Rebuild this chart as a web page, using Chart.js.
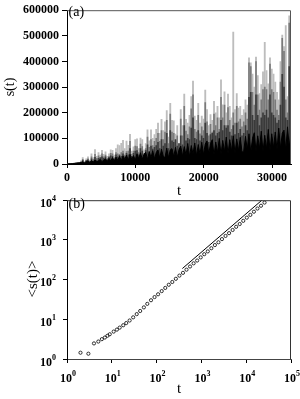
<!DOCTYPE html>
<html><head><meta charset="utf-8">
<script src="https://cdn.jsdelivr.net/npm/chart.js@4.4.0/dist/chart.umd.min.js"></script>
<style>
html,body{margin:0;padding:0;background:#fff;}
#wrap{position:relative;width:300px;height:399px;overflow:hidden;background:#fff;}
canvas{position:absolute;left:0;}
#c1{top:0;} #c2{top:190px;}
</style></head><body>
<div id="wrap"><canvas id="c1" width="300" height="200"></canvas><canvas id="c2" width="300" height="209"></canvas></div>
<script>
// ---------- Panel (a): s(t) ----------
const tA = [0,256,512,768,1024,1280,1536,1792,2048,2304,2560,2816,3072,3328,3584,3840,4096,4352,4608,4864,5120,5376,5632,5888,6144,6400,6656,6912,7168,7424,7680,7936,8192,8448,8704,8960,9216,9472,9728,9984,10240,10496,10752,11008,11264,11520,11776,12032,12288,12544,12800,13056,13312,13568,13824,14080,14336,14592,14848,15104,15360,15616,15872,16128,16384,16640,16896,17152,17408,17664,17920,18176,18432,18688,18944,19200,19456,19712,19968,20224,20480,20736,20992,21248,21504,21760,22016,22272,22528,22784,23040,23296,23552,23808,24064,24320,24576,24832,25088,25344,25600,25856,26112,26368,26624,26880,27136,27392,27648,27904,28160,28416,28672,28928,29184,29440,29696,29952,30208,30464,30720,30976,31232,31488,31744,32000,32256,32512,32768];
const sLight = [0,1000,1500,2500,3000,4000,4500,5000,
12000,25000,10000,20000,28000,15000,40000,25000,56000,30000,45000,35000,53000,
38000,47000,30000,40000,55000,53000,35000,60000,75000,72000,81000,92000,60000,89000,73000,116000,50000,67000,95000,98000,
60000,101000,95000,55000,80000,133000,90000,133000,100000,115000,135000,160000,120000,174000,130000,165000,208000,105000,237000,170000,
168000,117000,150000,80000,212000,150000,273000,174000,160000,190000,263000,323000,187000,170000,237000,160000,187000,175000,288000,212000,
150000,193000,170000,244000,200000,225000,180000,328000,231000,282000,200000,273000,225000,180000,515000,212000,275000,218000,225000,190000,
212000,250000,230000,414000,395000,351000,300000,417000,345000,275000,310000,360000,475000,364000,313000,414000,370000,351000,320000,280000,250000,400000,503000,458000,540000,263000,578000,288000];
const sGrey = [0,800,1200,2000,2500,3000,3500,4000,
8000,18000,7000,14000,20000,11000,28000,18000,38000,22000,32000,26000,40000,
28000,35000,22000,30000,42000,40000,25000,45000,40000,38000,45000,50000,35000,48000,50000,88000,38000,50000,70000,68000,
45000,78000,68000,42000,60000,105000,65000,95000,72000,88000,100000,120000,88000,130000,95000,125000,170000,80000,195000,125000,
120000,90000,110000,60000,175000,110000,225000,128000,115000,145000,215000,270000,135000,125000,190000,118000,145000,130000,240000,165000,
110000,155000,125000,195000,150000,180000,135000,260000,180000,230000,150000,220000,170000,135000,200000,160000,225000,165000,175000,145000,
165000,200000,175000,395000,380000,280000,230000,400000,270000,210000,250000,290000,300000,290000,250000,390000,290000,280000,250000,210000,190000,320000,490000,440000,250000,200000,550000,230000];
const sDark = [0,600,1200,1800,2800,3500,4200,5000,
7000,14000,6000,12000,16000,9000,20000,12000,26000,15000,22000,24000,28000,
22000,28000,17000,26000,32000,30000,20000,36000,28000,34000,30000,40000,28000,42000,36000,60000,30000,42000,50000,52000,
36000,60000,50000,34000,52000,75000,48000,70000,58000,65000,72000,85000,60000,95000,70000,80000,120000,60000,130000,90000,
85000,95000,70000,80000,110000,75000,150000,90000,100000,95000,140000,180000,100000,95000,130000,90000,110000,100000,160000,120000,
85000,115000,120000,130000,110000,120000,125000,170000,130000,150000,140000,150000,125000,110000,150000,115000,160000,120000,135000,110000,
120000,150000,130000,260000,280000,190000,170000,270000,190000,150000,180000,200000,190000,210000,180000,270000,200000,190000,180000,160000,170000,230000,350000,300000,180000,170000,380000,170000];
const sBlack = [0,500,1000,1500,2500,3000,4000,4500,
6000,9000,4000,10000,12000,5000,14000,7000,16000,8000,13000,18000,9000,
16000,20000,10000,22000,12000,25000,11000,27000,14000,30000,12000,32000,17000,35000,14000,38000,18000,33000,15000,40000,
20000,44000,18000,38000,46000,17000,48000,25000,52000,20000,45000,55000,22000,58000,30000,25000,62000,24000,55000,60000,
28000,65000,26000,56000,70000,30000,68000,35000,80000,28000,72000,40000,82000,32000,76000,38000,85000,36000,78000,90000,
40000,80000,95000,35000,86000,45000,100000,38000,92000,48000,105000,40000,95000,50000,110000,42000,98000,52000,104000,46000,
50000,108000,55000,118000,45000,100000,122000,50000,110000,60000,128000,48000,112000,58000,135000,52000,118000,62000,125000,55000,140000,60000,120000,132000,54000,145000,65000,128000];
const xTicksA = [0,10000,20000,30000];
const yTicksA = [0,100000,200000,300000,400000,500000,600000];

// ---------- Panel (b): <s(t)> ----------
const tB = [2,3,4,5,6,7,8,9,11,13,15,18,21,25,30,36,43,52,62,75,90,108,130,156,187,224,269,323,388,465,558,670,804,965,1158,1389,1667,2000,2400,2880,3456,4147,4977,5972,7166,8600,10320,12383,14860,17832,21399,25678];
const meanS = [1.44,1.36,2.47,2.75,3.16,3.47,3.85,4.2,4.9,5.5,6.17,7.08,8.04,9.33,11.2,13.5,16.2,19.95,24.5,30.2,36.3,42.7,51.3,61.7,74.1,87.1,104.7,125.9,147.9,177.8,213.8,257,302,363,436.5,513,616.6,741,871,1047,1259,1479,1778,2138,2512,3020,3631,4266,5129,6166,7244,8710];
const fitT = [376, 22400];
const fitS = [190, 10000];
const xTicksB = [1,10,100,1000,10000,100000];
const yTicksB = [1,10,100,1000,10000];

const SERIF = "'Liberation Serif','Times New Roman',serif";
Chart.defaults.font.family = SERIF;
Chart.defaults.color = '#000';

function pts(xs, ys){ return xs.map((x,i)=>({x:x, y:ys[i]})); }

function framePlugin(color){
  return { id:'frame', afterDatasetsDraw(chart){
    const ctx=chart.ctx, a=chart.chartArea;
    ctx.save(); ctx.strokeStyle=color; ctx.lineWidth=1;
    ctx.beginPath(); ctx.moveTo(a.left, a.top+0.5); ctx.lineTo(a.right-0.5, a.top+0.5); ctx.lineTo(a.right-0.5, a.bottom); ctx.stroke();
    ctx.restore();
  }};
}
function textPlugin(items){
  return { id:'texts', afterDraw(chart){
    const ctx=chart.ctx;
    items.forEach(it=>{
      ctx.save(); ctx.font=it.font; ctx.fillStyle='#000';
      ctx.textAlign=it.align||'left'; ctx.textBaseline=it.baseline||'alphabetic';
      ctx.translate(it.x,it.y); if(it.rot) ctx.rotate(it.rot);
      ctx.fillText(it.text,0,0); ctx.restore();
    });
  }};
}
// power-of-ten tick labels with real superscripts, placed with the scales
const powLabels = { id:'powLabels', afterDraw(chart){
  const ctx=chart.ctx; const big='bold 12px '+SERIF, small='bold 8px '+SERIF;
  ctx.save(); ctx.fillStyle='#000'; ctx.textBaseline='alphabetic'; ctx.textAlign='left';
  const xs=chart.scales.x, ys=chart.scales.y;
  xs.ticks.forEach(tk=>{
    const k=Math.round(Math.log10(tk.value)); const px=xs.getPixelForValue(tk.value);
    ctx.font=big; const w1=ctx.measureText('10').width; ctx.font=small; const w2=ctx.measureText(String(k)).width;
    const x0=px-(w1+w2)/2+1;
    ctx.font=big; ctx.fillText('10',x0,192);
    ctx.font=small; ctx.fillText(String(k),x0+w1,185.5);
  });
  ys.ticks.forEach(tk=>{
    const k=Math.round(Math.log10(tk.value)); const py=ys.getPixelForValue(tk.value);
    ctx.font=big; const w1=ctx.measureText('10').width; ctx.font=small; const w2=ctx.measureText(String(k)).width;
    const x0=56-(w1+w2);
    ctx.font=big; ctx.fillText('10',x0,py+6.5);
    ctx.font=small; ctx.fillText(String(k),x0+w1,py+0.5);
  });
  ctx.restore();
}};

const tickFont = {size:12, weight:'bold', family:SERIF};

new Chart(document.getElementById('c1'), {
  type:'bar',
  data:{ datasets:[
    {type:'line', label:'black', data:pts(tA,sBlack), borderColor:'#000', backgroundColor:'#000', borderWidth:1, pointRadius:0, fill:'origin', tension:0, order:1},
    {label:'dark', data:pts(tA,sDark), backgroundColor:'#3a3a3a', barThickness:1, grouped:false, order:2},
    {label:'grey', data:pts(tA,sGrey), backgroundColor:'#7a7a7a', barThickness:1, grouped:false, order:3},
    {label:'light', data:pts(tA,sLight), backgroundColor:'#bdbdbd', barThickness:1.2, grouped:false, order:4}
  ]},
  options:{
    responsive:false, animation:false, devicePixelRatio:1,
    layout:{padding:{top:6,right:9,left:0,bottom:0}},
    plugins:{legend:{display:false}, tooltip:{enabled:false}},
    scales:{
      x:{type:'linear', min:0, max:32768, offset:false,
         grid:{offset:false, drawOnChartArea:false, tickLength:4, color:'#000'},
         border:{color:'#000', width:1},
         ticks:{font:tickFont, color:'#000', padding:3, maxRotation:0, autoSkip:false, callback:v=>String(v)},
         afterBuildTicks:s=>{ s.ticks = xTicksA.map(v=>({value:v})); },
         afterFit:s=>{ s.height=36; }},
      y:{type:'linear', min:0, max:600000,
         grid:{drawOnChartArea:false, tickLength:5, color:'#000'},
         border:{color:'#000', width:1},
         ticks:{font:tickFont, color:'#000', padding:3, autoSkip:false, callback:v=>String(v)},
         afterBuildTicks:s=>{ s.ticks = yTicksA.map(v=>({value:v})); },
         afterFit:s=>{ s.width=67; }}
    }
  },
  plugins:[framePlugin('#555'), textPlugin([
    {text:'(a)', x:68.5, y:15.5, font:'14px '+SERIF},
    {text:'t', x:179, y:195, font:'15px '+SERIF, align:'center'},
    {text:'s(t)', x:10.5, y:87, font:'14px '+SERIF, align:'center', baseline:'middle', rot:-Math.PI/2}
  ])]
});

new Chart(document.getElementById('c2'), {
  type:'scatter',
  data:{ datasets:[
    {label:'mean', data:pts(tB,meanS), pointStyle:'circle', pointRadius:1.6, pointBorderWidth:0.8, borderColor:'#000', backgroundColor:'rgba(255,255,255,0)', showLine:false, order:2},
    {label:'fit', data:pts(fitT,fitS), showLine:true, borderColor:'#000', borderWidth:1, pointRadius:0, order:1}
  ]},
  options:{
    responsive:false, animation:false, devicePixelRatio:1,
    layout:{padding:{top:9,right:9,left:0,bottom:0}},
    plugins:{legend:{display:false}, tooltip:{enabled:false}},
    scales:{
      x:{type:'logarithmic', min:1, max:100000,
         grid:{drawOnChartArea:false, tickLength:4, color:'#000'},
         border:{color:'#444', width:1},
         ticks:{color:'rgba(0,0,0,0)', font:tickFont, autoSkip:false, maxRotation:0, callback:()=>''},
         afterBuildTicks:s=>{ s.ticks = xTicksB.map(v=>({value:v})); },
         afterFit:s=>{ s.height=40; }},
      y:{type:'logarithmic', min:1, max:10000,
         grid:{drawOnChartArea:false, tickLength:4, color:'#000'},
         border:{color:'#000', width:1},
         ticks:{color:'rgba(0,0,0,0)', font:tickFont, autoSkip:false, callback:()=>''},
         afterBuildTicks:s=>{ s.ticks = yTicksB.map(v=>({value:v})); },
         afterFit:s=>{ s.width=67; }}
    }
  },
  plugins:[framePlugin('#333'), powLabels, textPlugin([
    {text:'(b)', x:68.5, y:18, font:'14px '+SERIF},
    {text:'t', x:179, y:203, font:'15px '+SERIF, align:'center'},
    {text:'<s(t)>', x:33, y:89, font:'15px '+SERIF, align:'center', baseline:'middle', rot:-Math.PI/2}
  ])]
});
</script>
</body></html>
